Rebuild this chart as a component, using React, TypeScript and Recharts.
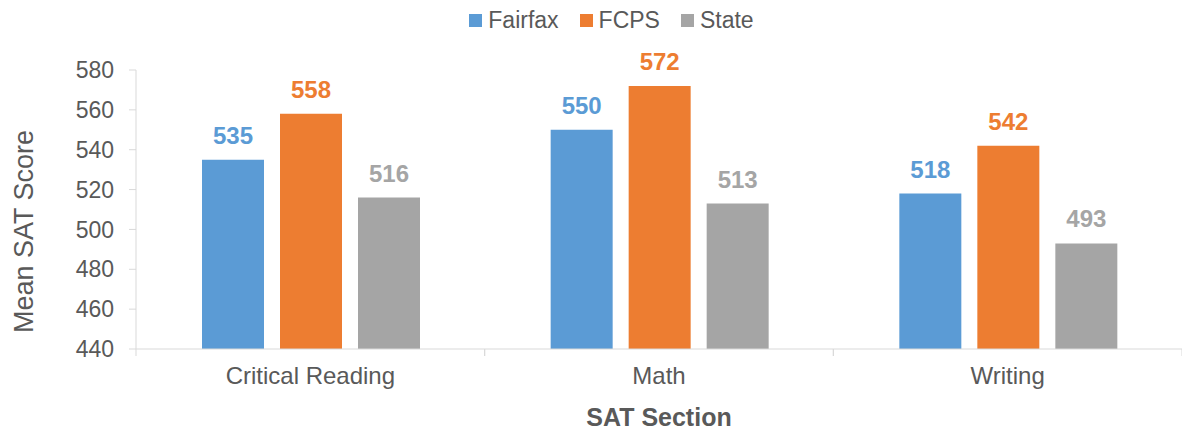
import React from 'react';
import { BarChart, Bar, XAxis, YAxis, Legend, LabelList, Label } from 'recharts';

const categories = ['Critical Reading', 'Math', 'Writing'];
const fairfax = [535, 550, 518];
const fcps = [558, 572, 542];
const stateVals = [516, 513, 493];
const yTicks = [440, 460, 480, 500, 520, 540, 560, 580];
const seriesNames = ['Fairfax', 'FCPS', 'State'];
const seriesColors = ['#5B9BD5', '#ED7D31', '#A5A5A5'];
const seriesValues = [fairfax, fcps, stateVals];

const data = categories.map((c, i) => {
  const row: Record<string, string | number> = { section: c };
  seriesNames.forEach((s, j) => {
    row[s] = seriesValues[j][i];
  });
  return row;
});

const W = 1182;
const H = 430;
const Y_AXIS_W = 136;
const X_AXIS_H = 81;
const TOP = 70;
const BAND = (W - Y_AXIS_W) / categories.length;
const AXIS_COLOR = '#D9D9D9';
const TEXT_COLOR = '#595959';
const FONT = '"Liberation Sans", Arial, sans-serif';

const XTick = (props: any) => {
  const { x, y, payload } = props;
  const half = BAND / 2;
  return (
    <g>
      <line x1={x - half} x2={x - half} y1={y} y2={y + 7} stroke={AXIS_COLOR} strokeWidth={1} />
      <line x1={x + half} x2={x + half} y1={y} y2={y + 7} stroke={AXIS_COLOR} strokeWidth={1} />
      <text x={x} y={y + 35} textAnchor="middle" fill={TEXT_COLOR} fontSize={24} fontFamily={FONT}>
        {payload.value}
      </text>
    </g>
  );
};

const LegendContent = () => (
  <div
    style={{
      display: 'flex',
      justifyContent: 'center',
      alignItems: 'center',
      paddingLeft: 41,
      fontFamily: FONT,
      fontSize: 23,
      color: TEXT_COLOR,
      lineHeight: '26px',
    }}
  >
    {seriesNames.map((s, i) => (
      <div key={s} style={{ display: 'flex', alignItems: 'center', marginRight: i < seriesNames.length - 1 ? 21 : 0 }}>
        <span style={{ display: 'inline-block', width: 13, height: 13, background: seriesColors[i], marginRight: 6 }} />
        <span>{s}</span>
      </div>
    ))}
  </div>
);

const YTitle = (props: any) => {
  const { viewBox } = props;
  const x = viewBox.x + 33;
  const y = viewBox.y + viewBox.height / 2 + 22;
  return (
    <text
      x={x}
      y={y}
      transform={`rotate(-90 ${x} ${y})`}
      textAnchor="middle"
      fill={TEXT_COLOR}
      fontSize={27}
      fontFamily={FONT}
    >
      Mean SAT Score
    </text>
  );
};

export default function App() {
  return (
    <div style={{ position: 'absolute', left: 0, top: 0, width: W, height: H, background: '#fff' }}>
      <BarChart
        width={W}
        height={H}
        data={data}
        margin={{ top: TOP, right: 0, bottom: 0, left: 0 }}
        barCategoryGap={66}
        barGap={16}
        style={{ fontFamily: FONT }}
      >
        <XAxis
          dataKey="section"
          height={X_AXIS_H}
          tickLine={false}
          tickSize={0}
          tickMargin={0}
          axisLine={{ stroke: AXIS_COLOR, strokeWidth: 1 }}
          tick={<XTick />}
          interval={0}
        >
          <Label value="SAT Section" position="insideBottom" offset={4} fill={TEXT_COLOR} fontSize={25} fontWeight="bold" />
        </XAxis>
        <YAxis
          width={Y_AXIS_W}
          domain={[440, 580]}
          ticks={yTicks}
          allowDataOverflow
          tickSize={7}
          tickMargin={15}
          tickLine={{ stroke: AXIS_COLOR }}
          axisLine={{ stroke: AXIS_COLOR, strokeWidth: 1 }}
          tick={{ fill: TEXT_COLOR, fontSize: 23 }}
        >
          <Label content={<YTitle />} />
        </YAxis>
        <Legend
          verticalAlign="middle"
          align="center"
          layout="horizontal"
          content={<LegendContent />}
          wrapperStyle={{ top: 7, left: 0, width: W }}
        />
        {seriesNames.map((s, i) => (
          <Bar key={s} dataKey={s} fill={seriesColors[i]} isAnimationActive={false}>
            <LabelList dataKey={s} position="top" offset={16} fill={seriesColors[i]} fontSize={24} fontWeight="bold" />
          </Bar>
        ))}
      </BarChart>
    </div>
  );
}
